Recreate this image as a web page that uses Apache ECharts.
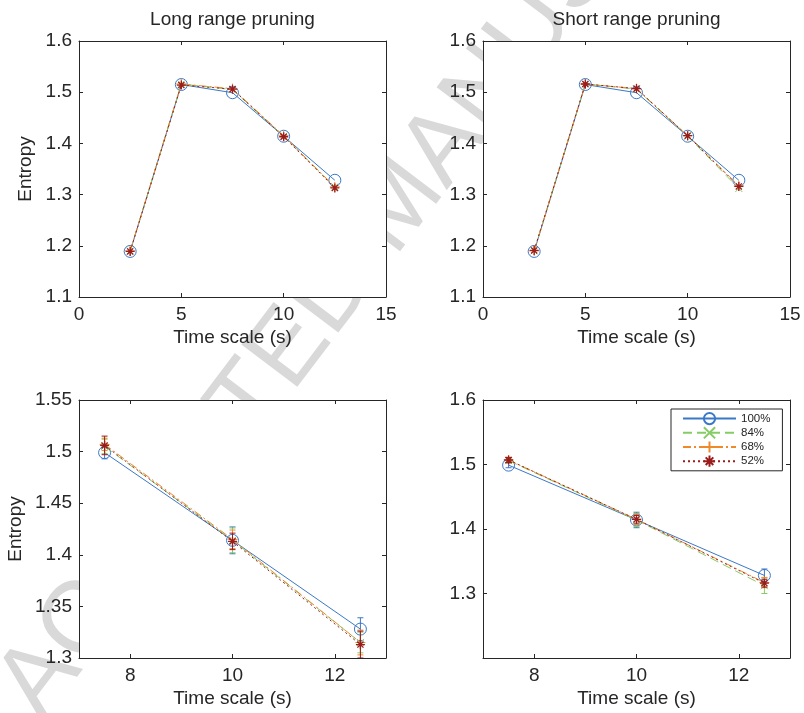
<!DOCTYPE html>
<html>
<head>
<meta charset="utf-8">
<script src="https://cdn.jsdelivr.net/npm/echarts@6/dist/echarts.min.js"></script>
<style>html,body{margin:0;padding:0;background:#fff}#c{width:804px;height:713px}</style>
</head>
<body>
<div id="c"></div>
<script>
// ---------------- data ----------------
const timeScale = [2.5, 5, 7.5, 10, 12.5];
const zoomStart = 2; // bottom panels show the last three time scales
const seriesNames = ['100%', '84%', '68%', '52%'];
const panelTitles = ['Long range pruning', 'Short range pruning'];
const xName = 'Time scale (s)';
const yName = 'Entropy';

// Long range pruning (mean entropy)
const long100 = [1.189, 1.515, 1.499, 1.414, 1.328];
const long84  = [1.190, 1.516, 1.505, 1.414, 1.315];
const long68  = [1.190, 1.516, 1.507, 1.415, 1.315];
const long52  = [1.189, 1.514, 1.506, 1.413, 1.313];
// Short range pruning (mean entropy)
const short100 = [1.189, 1.515, 1.499, 1.414, 1.328];
const short84  = [1.190, 1.516, 1.506, 1.414, 1.312];
const short68  = [1.190, 1.516, 1.507, 1.415, 1.317];
const short52  = [1.191, 1.516, 1.507, 1.415, 1.316];
// error half-widths for the zoomed panels (time 7.5, 10, 12.5)
const longErr100 = [0.006, 0.013, 0.011];
const longErr84  = [0.007, 0.012, 0.010];
const longErr68  = [0.006, 0.009, 0.012];
const longErr52  = [0.009, 0.008, 0.013];
const shortErr100 = [0.004, 0.012, 0.010];
const shortErr84  = [0.004, 0.010, 0.012];
const shortErr68  = [0.004, 0.008, 0.008];
const shortErr52  = [0.004, 0.006, 0.006];

// tick labels
const xTicksTop = [0, 5, 10, 15];
const xTicksBottom = [8, 10, 12];
const yTicksTop = [1.1, 1.2, 1.3, 1.4, 1.5, 1.6];
const yTicksBottomLeft = [1.3, 1.35, 1.4, 1.45, 1.5, 1.55];
const yTicksBottomRight = [1.3, 1.4, 1.5, 1.6];

// ---------------- styling ----------------
const FONT = '"Liberation Sans", Arial, Helvetica, sans-serif';
const INK = '#262626';
const colors = ['#3b78c8', '#86cc66', '#f0892a', '#9a1c1c'];
const dashTypes = ['solid', [9, 5], [8, 3, 2, 3], [2, 3]];
const symbols = [
  'circle',
  'path://M0,0L10,10M10,0L0,10',
  'path://M5,0L5,10M0,5L10,5',
  'path://M5,0L5,10M0,5L10,5M1.6,1.6L8.4,8.4M8.4,1.6L1.6,8.4'
];
const symbolSizes = [12, 7, 10, 9];

const grids = [
  {left: 79, top: 41, width: 307, height: 256},
  {left: 483, top: 41, width: 307, height: 256},
  {left: 79, top: 400, width: 307, height: 258},
  {left: 483, top: 400, width: 307, height: 258}
];

const panelX = [
  {min: 0, max: 15, ticks: xTicksTop},
  {min: 0, max: 15, ticks: xTicksTop},
  {min: 7, max: 13, ticks: xTicksBottom},
  {min: 7, max: 13, ticks: xTicksBottom}
];
const panelY = [
  {min: 1.1, max: 1.6, ticks: yTicksTop, nameGap: 44},
  {min: 1.1, max: 1.6, ticks: yTicksTop},
  {min: 1.3, max: 1.55, ticks: yTicksBottomLeft, nameGap: 54},
  {min: 1.2, max: 1.6, ticks: yTicksBottomRight}
];

const labelStyle = {color: INK, fontSize: 19, fontFamily: FONT};
const lineAxis = {show: true, onZero: false, lineStyle: {color: INK, width: 1}};
const tickStyle = {inside: true, length: 4, lineStyle: {color: INK, width: 1}};

const xAxes = [], yAxes = [];
grids.forEach((g, i) => {
  const px = panelX[i], py = panelY[i];
  xAxes.push({
    type: 'value', gridIndex: i, position: 'bottom', min: px.min, max: px.max,
    axisLine: lineAxis,
    axisTick: Object.assign({customValues: px.ticks}, tickStyle),
    axisLabel: Object.assign({customValues: px.ticks, margin: 8, formatter: v => String(v)}, labelStyle),
    splitLine: {show: false},
    name: xName, nameLocation: 'middle', nameGap: 31, nameTextStyle: labelStyle
  });
  xAxes.push({
    type: 'value', gridIndex: i, position: 'top', min: px.min, max: px.max,
    axisLine: lineAxis,
    axisTick: Object.assign({customValues: px.ticks}, tickStyle),
    axisLabel: {show: false}, splitLine: {show: false}
  });
  const yMain = {
    type: 'value', gridIndex: i, position: 'left', min: py.min, max: py.max,
    axisLine: lineAxis,
    axisTick: Object.assign({customValues: py.ticks}, tickStyle),
    axisLabel: Object.assign({customValues: py.ticks, margin: 7, formatter: v => String(v)}, labelStyle),
    splitLine: {show: false}
  };
  if (py.nameGap) {
    Object.assign(yMain, {name: yName, nameLocation: 'middle', nameGap: py.nameGap, nameRotate: 90, nameTextStyle: labelStyle});
  }
  yAxes.push(yMain);
  yAxes.push({
    type: 'value', gridIndex: i, position: 'right', min: py.min, max: py.max,
    axisLine: lineAxis,
    axisTick: Object.assign({customValues: py.ticks}, tickStyle),
    axisLabel: {show: false}, splitLine: {show: false}
  });
});

const longSets = [long100, long84, long68, long52];
const shortSets = [short100, short84, short68, short52];
const longErrs = [longErr100, longErr84, longErr68, longErr52];
const shortErrs = [shortErr100, shortErr84, shortErr68, shortErr52];

function lineSeries(panel, k, values, xs) {
  return {
    type: 'line', name: seriesNames[k],
    xAxisIndex: panel * 2, yAxisIndex: panel * 2,
    data: xs.map((x, j) => [x, values[j]]),
    symbol: symbols[k], symbolSize: symbolSizes[k], showAllSymbol: true,
    lineStyle: {color: colors[k], width: 1, type: dashTypes[k]},
    itemStyle: {color: 'rgba(0,0,0,0)', borderColor: colors[k], borderWidth: k === 3 ? 1.3 : 1},
    emphasis: {disabled: true},
    z: 3 + k
  };
}

function errSeries(panel, k, values, errs, xs) {
  const col = colors[k];
  return {
    type: 'custom', name: 'err' + seriesNames[k],
    xAxisIndex: panel * 2, yAxisIndex: panel * 2,
    clip: true,
    data: xs.map((x, j) => [x, values[j] - errs[j], values[j] + errs[j]]),
    encode: {x: 0, y: [1, 2]},
    renderItem: function (params, api) {
      const x = api.value(0);
      const lo = api.coord([x, api.value(1)]);
      const hi = api.coord([x, api.value(2)]);
      const w = 3;
      const st = {stroke: col, lineWidth: 1, fill: null};
      return {type: 'group', children: [
        {type: 'line', shape: {x1: lo[0], y1: lo[1], x2: hi[0], y2: hi[1]}, style: st},
        {type: 'line', shape: {x1: lo[0] - w, y1: lo[1], x2: lo[0] + w, y2: lo[1]}, style: st},
        {type: 'line', shape: {x1: hi[0] - w, y1: hi[1], x2: hi[0] + w, y2: hi[1]}, style: st}
      ]};
    },
    z: 3 + k
  };
}

const series = [];
const zoomX = timeScale.slice(zoomStart);
for (let k = 0; k < 4; k++) {
  series.push(lineSeries(0, k, longSets[k], timeScale));
  series.push(lineSeries(1, k, shortSets[k], timeScale));
  series.push(errSeries(2, k, longSets[k].slice(zoomStart), longErrs[k], zoomX));
  series.push(lineSeries(2, k, longSets[k].slice(zoomStart), zoomX));
  series.push(errSeries(3, k, shortSets[k].slice(zoomStart), shortErrs[k], zoomX));
  series.push(lineSeries(3, k, shortSets[k].slice(zoomStart), zoomX));
}

const option = {
  animation: false,
  backgroundColor: '#fff',
  textStyle: {fontFamily: FONT},
  graphic: {
    elements: [{
      type: 'text', x: 400, y: 205, rotation: 52.8 * Math.PI / 180, z: -10, silent: true,
      style: {text: 'ACCEPTED MANUSCRIPT', fontSize: 102, fontFamily: FONT, fill: '#d9d9d9',
              align: 'center', verticalAlign: 'middle'}
    }]
  },
  title: panelTitles.map((t, i) => ({
    text: t, left: grids[i].left + grids[i].width / 2, textAlign: 'center', top: 10, padding: 0,
    textStyle: {fontSize: 19, fontWeight: 'normal', color: INK, fontFamily: FONT}
  })),
  grid: grids.map(g => Object.assign({show: true, backgroundColor: '#fff', borderWidth: 0, containLabel: false}, g)),
  xAxis: xAxes,
  yAxis: yAxes,
  legend: {
    data: seriesNames, orient: 'vertical', left: 671, top: 409, align: 'left',
    itemWidth: 53, itemHeight: 14, itemGap: 1,
    padding: [3, 12, 3, 11],
    backgroundColor: '#fff', borderColor: INK, borderWidth: 1,
    textStyle: {fontSize: 11.5, color: INK, fontFamily: FONT},
    selectedMode: false
  },
  series: series
};

const chart = echarts.init(document.getElementById('c'), null, {renderer: 'canvas'});
chart.setOption(option);
</script>
</body>
</html>
